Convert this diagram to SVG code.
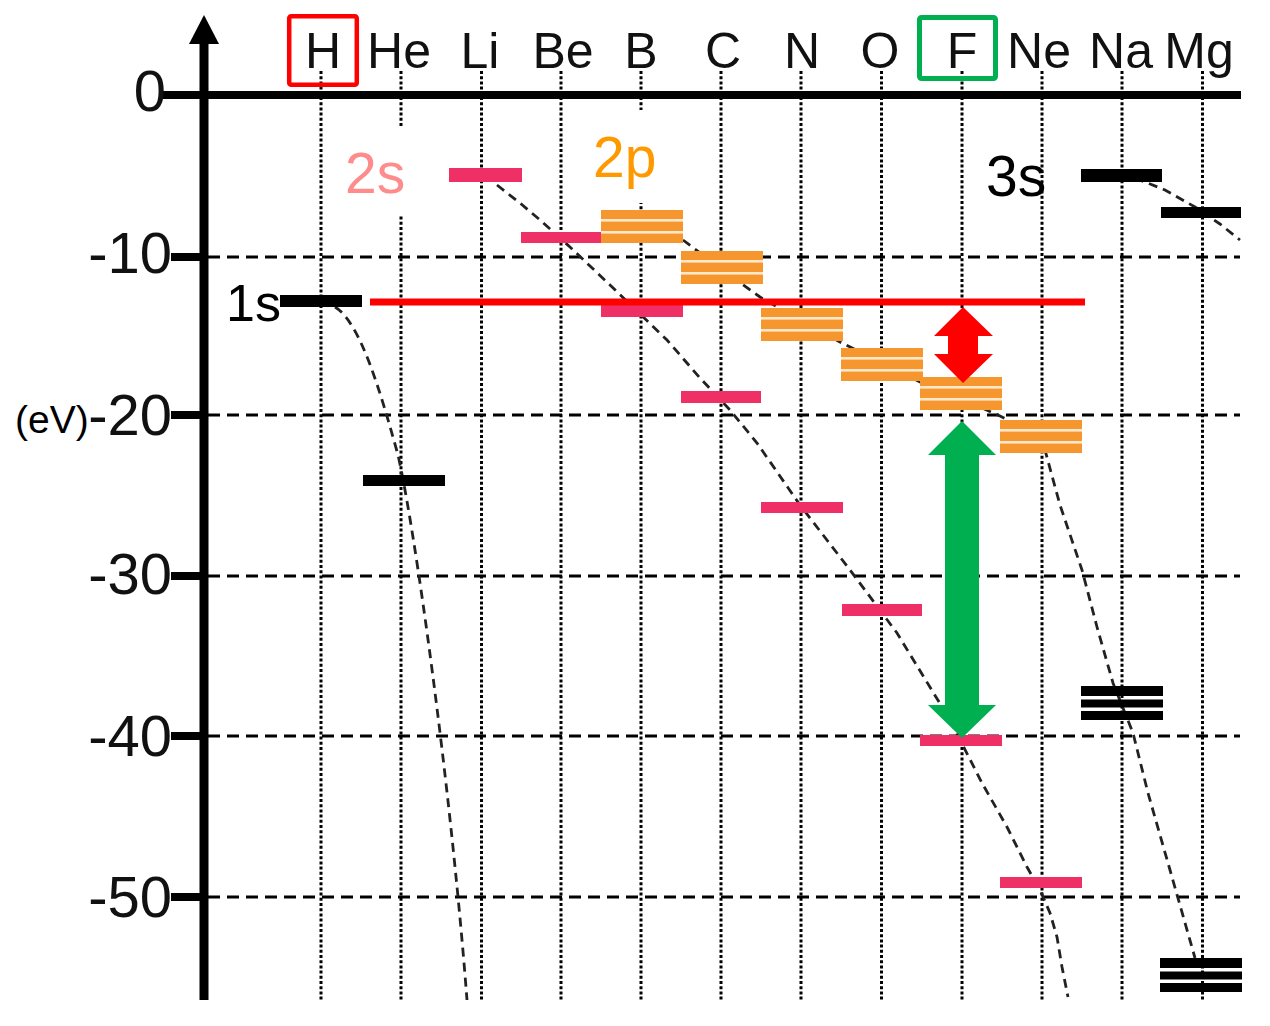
<svg xmlns="http://www.w3.org/2000/svg" width="1270" height="1026" viewBox="0 0 1270 1026">
<defs>
<style>
.grid{stroke:#000;stroke-width:3.2;stroke-dasharray:12 7;fill:none}
.dot{stroke:#000;stroke-width:3;stroke-dasharray:3 2.2;fill:none}
.curve{stroke:#222;stroke-width:2.8;stroke-dasharray:9 6;fill:none}
.el{font-family:"Liberation Sans",Arial,sans-serif;font-size:50px;fill:#111;text-anchor:middle}
.ax{font-family:"Liberation Sans",Arial,sans-serif;font-size:58px;fill:#111;text-anchor:end}
.lbl{font-family:"Liberation Sans",Arial,sans-serif;font-size:57px}
.s2{fill:#ef3066}
.p2{fill:#f6962f}
.stripe{fill:#fde8cc}
.blk{fill:#000}
</style>
<g id="p2block">
<rect class="p2" x="0" y="0" width="82" height="33"/>
<rect class="stripe" x="0" y="9" width="82" height="2.6"/>
<rect class="stripe" x="0" y="21" width="82" height="2.6"/>
</g>
<g id="blk3">
<rect class="blk" x="0" y="0" width="82" height="10"/>
<rect class="blk" x="0" y="13.5" width="82" height="8"/>
<rect class="blk" x="0" y="25" width="82" height="9"/>
</g>
</defs>
<rect width="1270" height="1026" fill="#fff"/>

<!-- grid -->
<g id="grid">
<line class="grid" x1="208" y1="257" x2="1240" y2="257"/>
<line class="grid" x1="208" y1="415" x2="1240" y2="415"/>
<line class="grid" x1="208" y1="576" x2="1240" y2="576"/>
<line class="grid" x1="208" y1="736" x2="1240" y2="736"/>
<line class="grid" x1="208" y1="897" x2="1240" y2="897"/>
<line class="dot" x1="321" y1="71" x2="321" y2="1000"/>
<line class="dot" x1="401" y1="71" x2="401" y2="1000"/>
<line class="dot" x1="481.5" y1="71" x2="481.5" y2="1000"/>
<line class="dot" x1="561" y1="71" x2="561" y2="1000"/>
<line class="dot" x1="641" y1="71" x2="641" y2="1000"/>
<line class="dot" x1="721" y1="71" x2="721" y2="1000"/>
<line class="dot" x1="801" y1="71" x2="801" y2="1000"/>
<line class="dot" x1="881.5" y1="71" x2="881.5" y2="1000"/>
<line class="dot" x1="962" y1="71" x2="962" y2="1000"/>
<line class="dot" x1="1042" y1="71" x2="1042" y2="1000"/>
<line class="dot" x1="1122" y1="71" x2="1122" y2="1000"/>
<line class="dot" x1="1202.5" y1="71" x2="1202.5" y2="1000"/>
<rect x="340" y="127" width="72" height="88" fill="#fff"/>
<rect x="590" y="110" width="75" height="93" fill="#fff"/>
</g>

<!-- axes -->
<g id="axes">
<line x1="204" y1="38" x2="204" y2="1000" stroke="#000" stroke-width="9"/>
<polygon points="204,15 219,44 189,44" fill="#000"/>
<line x1="163" y1="95" x2="1241" y2="95" stroke="#000" stroke-width="8"/>
<g stroke="#000" stroke-width="8">
<line x1="171" y1="257" x2="204" y2="257"/>
<line x1="171" y1="415" x2="204" y2="415"/>
<line x1="171" y1="576" x2="204" y2="576"/>
<line x1="171" y1="736" x2="204" y2="736"/>
<line x1="171" y1="897" x2="204" y2="897"/>
</g>
<text class="ax" x="166" y="111">0</text>
<text class="ax" x="172" y="273">-10</text>
<text class="ax" x="172" y="435">-20</text>
<text class="ax" x="172" y="594">-30</text>
<text class="ax" x="172" y="756">-40</text>
<text class="ax" x="172" y="917">-50</text>
<text x="15" y="433" font-family="Liberation Sans, Arial, sans-serif" font-size="39" fill="#000">(eV)</text>
</g>

<!-- connectors -->
<g id="connectors">
<path class="curve" d="M335,307 C360,322 380,390 398,455 C415,530 450,780 467,1000"/>
<polyline class="curve" points="497,185 520,203 540,220 570,247 610,285 667,340 700,378 730,410 757,443 800,505 850,570 897,633 950,720 982,783 1007,827 1027,867 1040,890 1050,913 1057,937 1062,967 1068,997"/>
<polyline class="curve" points="683,240 720,268 760,297 800,320 840,342 880,362 920,382 960,398 1000,416 1030,432 1045,450 1060,505 1082,570 1097,627 1113,683 1133,733 1148,793 1170,870 1195,958"/>
<polyline class="curve" points="1135,178 1165,190 1195,207 1220,224 1240,240"/>
</g>

<!-- element labels -->
<g id="elements">
<text class="el" x="323" y="68">H</text>
<text class="el" x="399" y="68">He</text>
<text class="el" x="480" y="68">Li</text>
<text class="el" x="563" y="68">Be</text>
<text class="el" x="641" y="68">B</text>
<text class="el" x="723" y="68">C</text>
<text class="el" x="802" y="68">N</text>
<text class="el" x="880" y="68">O</text>
<text class="el" x="962" y="68">F</text>
<text class="el" x="1039" y="68">Ne</text>
<text class="el" x="1121" y="68">Na</text>
<text class="el" x="1199" y="68">Mg</text>
<rect x="289.2" y="16.2" width="67.6" height="68.6" rx="2" fill="none" stroke="#ff0000" stroke-width="4.5"/>
<rect x="919.5" y="17.5" width="76" height="61" rx="2" fill="none" stroke="#00b050" stroke-width="5"/>
</g>

<!-- level nodes -->
<g id="H"><rect class="blk" x="280" y="295" width="82" height="12"/></g>
<g id="He"><rect class="blk" x="363" y="475" width="82" height="11"/></g>
<g id="Li"><rect class="s2" x="449" y="168" width="73" height="14"/></g>
<g id="Be"><rect class="s2" x="521" y="232" width="82" height="11"/></g>
<g id="B"><use href="#p2block" x="601" y="210"/><rect class="s2" x="601" y="304" width="82" height="13"/></g>
<g id="C"><use href="#p2block" x="681" y="251"/><rect class="s2" x="681" y="391" width="80" height="12"/></g>
<g id="N"><use href="#p2block" x="761" y="308"/><rect class="s2" x="761" y="502" width="82" height="11"/></g>
<g id="O"><use href="#p2block" x="841" y="348"/><rect class="s2" x="842" y="604" width="80" height="12"/></g>
<g id="F"><use href="#p2block" x="920" y="377"/><rect class="s2" x="920" y="735" width="82" height="11"/></g>
<g id="Ne"><use href="#p2block" x="1000" y="420"/><rect class="s2" x="1000" y="877" width="82" height="11"/></g>
<g id="Na"><rect class="blk" x="1081" y="169" width="81" height="13"/><use href="#blk3" x="1081" y="686"/></g>
<g id="Mg"><rect class="blk" x="1161" y="207" width="80" height="11"/><use href="#blk3" x="1160" y="958"/></g>

<!-- reference line and arrows -->
<g id="redline"><rect x="370" y="298.5" width="715" height="7" fill="#ff0000"/></g>
<g id="redarrow"><polygon points="963,307 993,336 978,336 978,354 993,354 963,383 934,354 948,354 948,336 934,336" fill="#ff0000"/></g>
<g id="greenarrow"><polygon points="962,421 996,455 979,455 979,705 996,705 962,738 928,705 945,705 945,455 928,455" fill="#00b050"/></g>

<!-- orbital labels -->
<g id="labels">
<text class="lbl" x="226" y="321" fill="#000" style="font-size:52px">1s</text>
<text class="lbl" x="345" y="193" fill="#ff8c8c">2s</text>
<text class="lbl" x="593" y="177" fill="#ff9900">2p</text>
<text class="lbl" x="986" y="196" fill="#000">3s</text>
</g>
</svg>
